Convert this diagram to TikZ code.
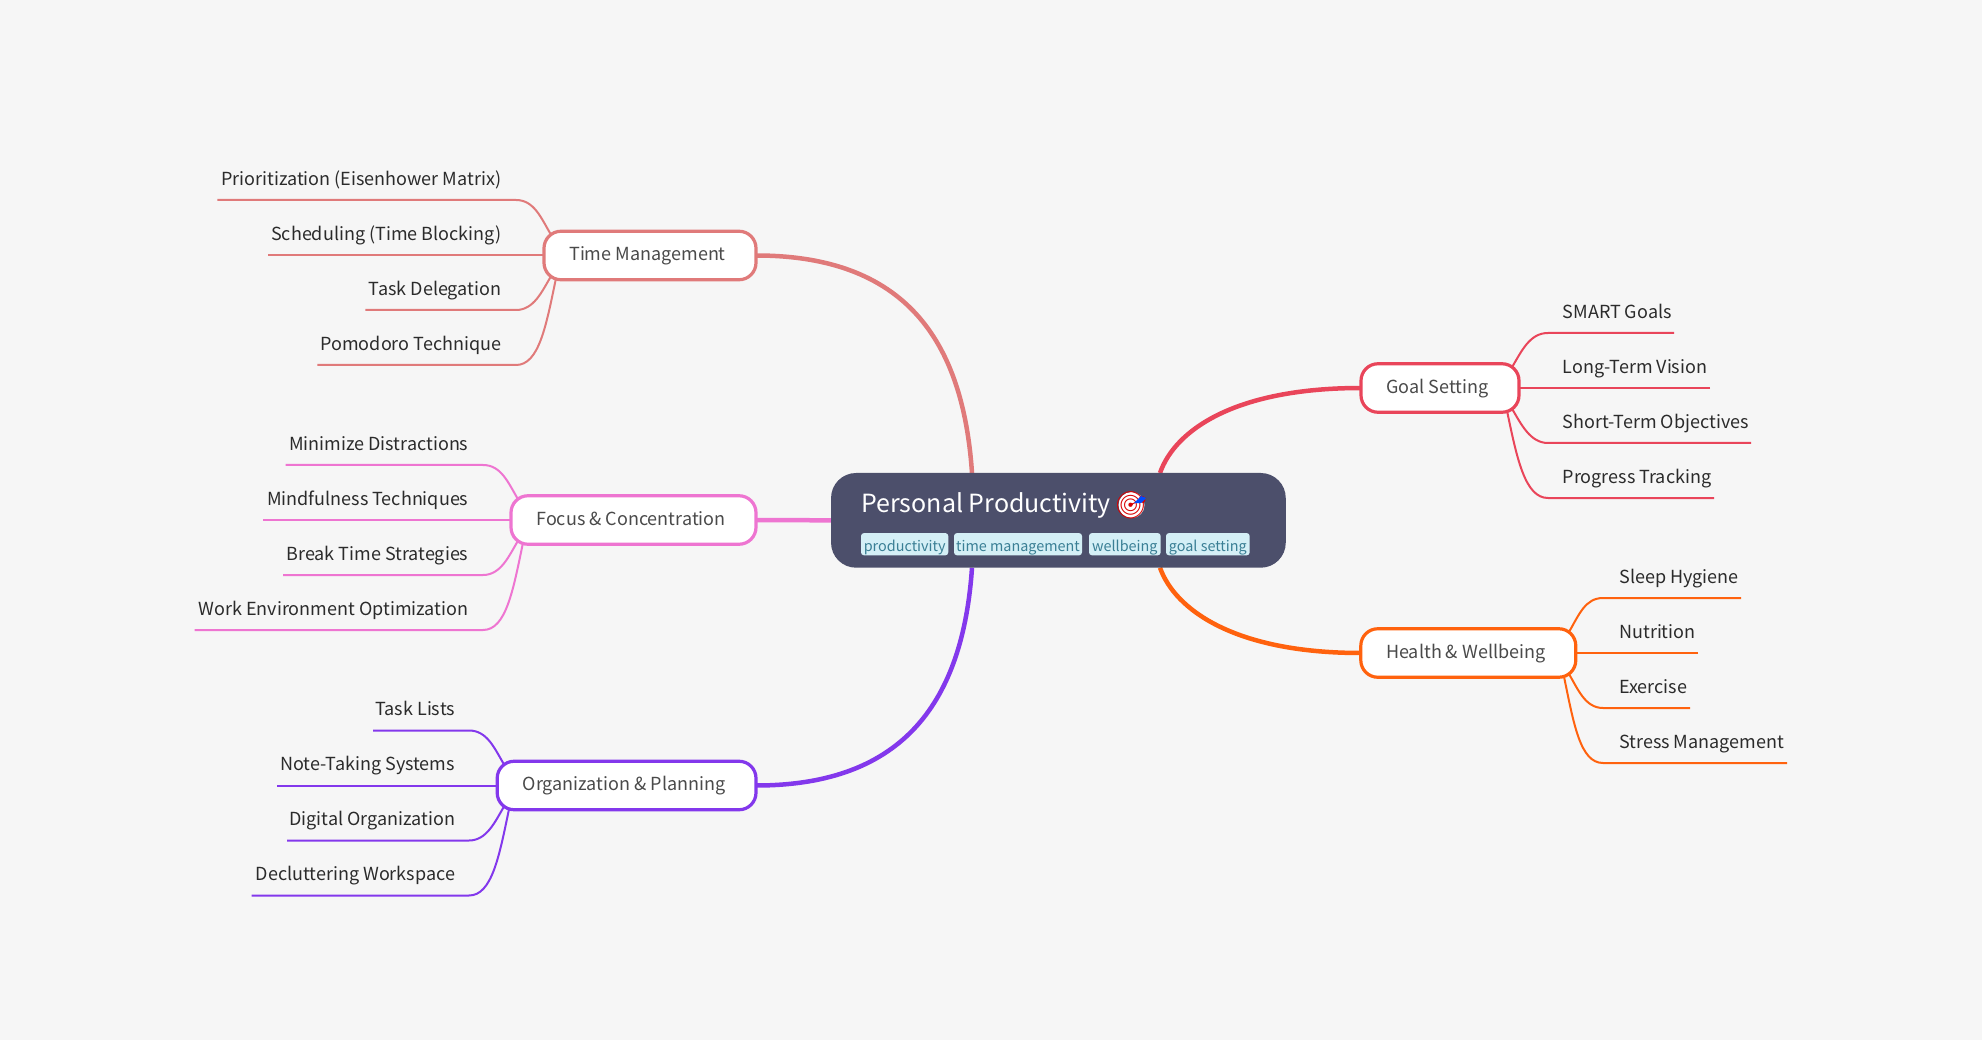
\documentclass[tikz,border=0pt]{standalone}
\usepackage{fontspec}
\setmainfont{Noto Sans CJK SC}
\newfontfamily\emojifont{Noto Emoji}
\usetikzlibrary{backgrounds}
\definecolor{bgc}{HTML}{F6F6F6}
\definecolor{rootc}{HTML}{4C4F6B}
\definecolor{tagc}{HTML}{D4EFF6}
\definecolor{tagt}{HTML}{3A7F95}
\definecolor{timec}{HTML}{E07A7A}
\definecolor{focusc}{HTML}{EE75D1}
\definecolor{orgc}{HTML}{8338EC}
\definecolor{goalc}{HTML}{E9455A}
\definecolor{healthc}{HTML}{FF620E}
\definecolor{leaft}{HTML}{2B2B2B}
\definecolor{brancht}{HTML}{4A4A4A}
\tikzset{
  x=1pt,y=-1pt,
  rootbox/.style={fill=rootc,rounded corners=25pt,inner sep=0pt,outer sep=0pt,minimum width=454.7pt,minimum height=94.7pt},
  titletext/.style={inner sep=0pt,outer sep=0pt,text=white,font=\fontsize{25}{30}\selectfont,anchor=base west},
  tagbox/.style={fill=tagc,rounded corners=3pt,inner sep=0pt,outer sep=0pt,minimum height=22.3pt,text=tagt,font=\fontsize{14.4}{18}\selectfont,anchor=west,text height=15pt,text depth=0pt},
  branchbox/.style={draw=#1,fill=white,line width=3.2pt,rounded corners=17pt,inner sep=0pt,outer sep=0pt,minimum height=48.5pt,text=brancht,font=\fontsize{18}{22}\selectfont,text height=14.5pt,text depth=4pt},
  leaftext/.style={inner sep=0pt,outer sep=0pt,text=leaft,font=\fontsize{18}{22}\selectfont},
  mainwire/.style={draw=#1,line width=4.5pt},
  leafwire/.style={draw=#1,line width=2pt,line join=round},
}
\newcommand{\mmbase}[4]{%
  \node[leaftext,anchor=\mmanch] (#1) at (\mmtx,#3-14.6) {#2};
  \coordinate (#1a) at (#4,#3);
  \coordinate (#1b) at (\mmjx,#3);}
\newcommand{\leafA}[4]{\mmbase{#1}{#2}{#3}{#4}%
  \begin{pgfonlayer}{background}
  \draw[leafwire=\mmcol] (#1a) -- (#1b) .. controls +({-18*\mmd},0) and +({10*\mmd},-17) .. ([xshift={-7pt*\mmd},yshift=-3.5pt]\mmparent.north \mmside);
  \end{pgfonlayer}}
\newcommand{\leafB}[4]{\mmbase{#1}{#2}{#3}{#4}%
  \begin{pgfonlayer}{background}
  \draw[leafwire=\mmcol] (#1a) -- (#1b) -- (\mmparent.\mmside);
  \end{pgfonlayer}}
\newcommand{\leafC}[4]{\mmbase{#1}{#2}{#3}{#4}%
  \begin{pgfonlayer}{background}
  \draw[leafwire=\mmcol] (#1a) -- (#1b) .. controls +({-18*\mmd},0) and +({9*\mmd},15) .. ([xshift={-7pt*\mmd},yshift=3.5pt]\mmparent.south \mmside);
  \end{pgfonlayer}}
\newcommand{\leafD}[4]{\mmbase{#1}{#2}{#3}{#4}%
  \begin{pgfonlayer}{background}
  \draw[leafwire=\mmcol] (#1a) -- (#1b) .. controls +({-23*\mmd},0) and +({10*\mmd},48) .. ([xshift={-12pt*\mmd},yshift=1.5pt]\mmparent.south \mmside);
  \end{pgfonlayer}}
\begin{document}
\begin{tikzpicture}
\useasboundingbox (0,0) rectangle (1982,1040);
\begin{pgfonlayer}{background}
\fill[bgc] (0,0) rectangle (1982,1040);
\end{pgfonlayer}

% root
\node[rootbox] (root) at (1058.4,520.35) {};
\node[titletext] (title) at (861.3,512) {Personal Productivity};
\fill[white] (1131.5,505) circle (13pt);
\node[inner sep=0pt,outer sep=0pt,text=red!85!black,font=\emojifont\fontsize{27}{30}\selectfont] (emoji) at (1131.5,505) {🎯};
\fill[blue!70!cyan] (1134,503) -- (1141,496) -- (1146,498) -- (1141,503) -- cycle;
\node[tagbox,minimum width=87.3pt] (t1) at (861,544.2) {productivity};
\node[tagbox,minimum width=128pt] (t2) at (954,544.2) {time management};
\node[tagbox,minimum width=71.7pt] (t3) at (1089,544.2) {wellbeing};
\node[tagbox,minimum width=83.7pt] (t4) at (1166,544.2) {goal setting};

% branches
\node[branchbox=timec,minimum width=212pt] (ntime) at (650,255.5) {\kern-5pt Time Management};
\node[branchbox=focusc,minimum width=245pt] (nfocus) at (633.5,520) {\kern-5pt Focus \& Concentration};
\node[branchbox=orgc,minimum width=258.8pt] (norg) at (626.6,785.5) {\kern-5pt Organization \& Planning};
\node[branchbox=goalc,minimum width=158pt] (ngoal) at (1440,388) {\kern-5pt Goal Setting};
\node[branchbox=healthc,minimum width=215pt] (nhealth) at (1468.3,653) {\kern-5pt Health \& Wellbeing};

\begin{pgfonlayer}{background}
\draw[mainwire=timec] ([xshift=-86.4pt]root.north) .. controls (963,340) and (905,255.5) .. (ntime.east);
\draw[mainwire=orgc] ([xshift=-86.4pt]root.south) .. controls (963,700) and (905,785.5) .. (norg.east);
\draw[mainwire=focusc] (root.west) -- (nfocus.east);
\draw[mainwire=goalc] ([xshift=101.6pt]root.north) .. controls (1175,430) and (1235,388) .. (ngoal.west);
\draw[mainwire=healthc] ([xshift=101.6pt]root.south) .. controls (1175,610) and (1235,653) .. (nhealth.west);
\end{pgfonlayer}

% Time Management
\def\mmparent{ntime}\def\mmside{west}\def\mmd{-1}\def\mmtx{501.2}\def\mmjx{516}\def\mmcol{timec}\def\mmanch{base east}
\leafA{a1}{Prioritization (Eisenhower Matrix)}{200}{217.4}
\leafB{a2}{Scheduling (Time Blocking)}{255.5}{268}
\leafC{a3}{Task Delegation}{310}{365.3}
\leafD{a4}{Pomodoro Technique}{365}{317.3}

% Focus
\def\mmparent{nfocus}\def\mmtx{468.4}\def\mmjx{483}\def\mmcol{focusc}
\leafA{b1}{Minimize Distractions}{465}{285.7}
\leafB{b2}{Mindfulness Techniques}{520}{263}
\leafC{b3}{Break Time Strategies}{575}{283}
\leafD{b4}{Work Environment Optimization}{630}{194.7}

% Organization
\def\mmparent{norg}\def\mmtx{455}\def\mmjx{469}\def\mmcol{orgc}
\leafA{c1}{Task Lists}{730.5}{373}
\leafB{c2}{Note-Taking Systems}{785.5}{277}
\leafC{c3}{Digital Organization}{840.5}{287}
\leafD{c4}{Decluttering Workspace}{895.5}{251.5}

% Goal
\def\mmparent{ngoal}\def\mmside{east}\def\mmd{1}\def\mmtx{1562.7}\def\mmjx{1548}\def\mmcol{goalc}\def\mmanch{base west}
\leafA{d1}{SMART Goals}{333}{1674}
\leafB{d2}{Long-Term Vision}{388}{1710}
\leafC{d3}{Short-Term Objectives}{443}{1751}
\leafD{d4}{Progress Tracking}{498}{1714}

% Health
\def\mmparent{nhealth}\def\mmtx{1619.3}\def\mmjx{1603}\def\mmcol{healthc}
\leafA{e1}{Sleep Hygiene}{598}{1741}
\leafB{e2}{Nutrition}{653}{1698}
\leafC{e3}{Exercise}{708}{1690}
\leafD{e4}{Stress Management}{763}{1787}
\end{tikzpicture}
\end{document}
